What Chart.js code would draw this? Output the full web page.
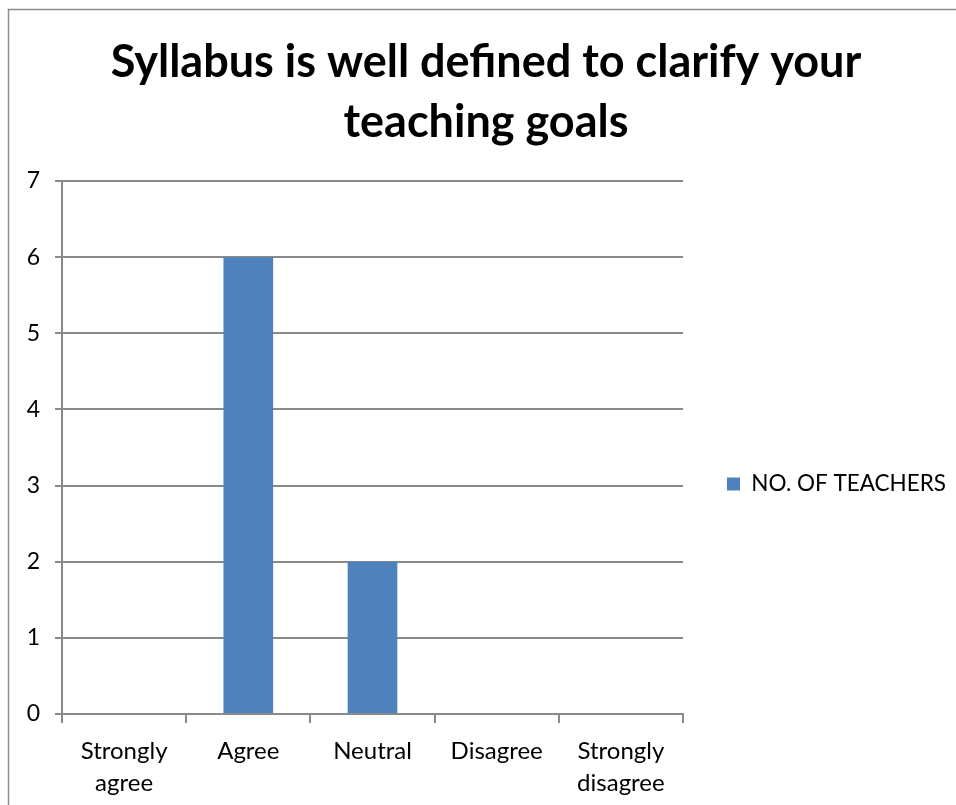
<!DOCTYPE html>
<html>
<head>
<meta charset="utf-8">
<script src="https://cdn.jsdelivr.net/npm/chart.js@4.4.0/dist/chart.umd.min.js"></script>
<style>
html,body{margin:0;padding:0;background:#fff;}
#wrap{position:absolute;left:0;top:0;width:956px;height:805px;}
</style>
</head>
<body>
<div id="wrap"><canvas id="c" width="956" height="805"></canvas></div>
<script>
const titleLines = ["Syllabus is well defined to clarify your", "teaching goals"];
const categories = [["Strongly", "agree"], "Agree", "Neutral", "Disagree", ["Strongly", "disagree"]];
const seriesName = "NO. OF TEACHERS";
const teachers = [0, 6, 2, 0, 0];
const yTicks = [0, 1, 2, 3, 4, 5, 6, 7];

const FONT = "Lato, 'Open Sans', sans-serif";
const GRID = "#8a8a8a";

const framePlugin = {
  id: 'frame',
  afterDraw(chart) {
    const ctx = chart.ctx;
    ctx.save();
    ctx.strokeStyle = "#8c8c8c";
    ctx.lineWidth = 1.5;
    ctx.beginPath();
    ctx.moveTo(8.5, 805);
    ctx.lineTo(8.5, 9.5);
    ctx.lineTo(956, 9.5);
    ctx.stroke();
    ctx.restore();
  }
};

// legend block: fixed width so the plot ends at x=683; square at x=727, centred at y=484
const LEGEND_W = 273;
const legendPlace = {
  id: 'legendPlace',
  beforeLayout(chart) {
    const lg = chart.legend;
    if (lg && !lg._fixedFit) {
      const origFit = lg.fit.bind(lg);
      lg.fit = function () { origFit(); this.width = LEGEND_W; };
      lg._fixedFit = true;
    }
  },
  afterLayout(chart) {
    const lg = chart.legend;
    if (!lg) return;
    const p = lg.options.labels.padding;
    const dx = 727 - (lg.left + p);
    lg.left += dx; lg.right += dx;
    const dy = 484 - (lg.top + lg.bottom) / 2;
    lg.top += dy; lg.bottom += dy;
  }
};

new Chart(document.getElementById('c'), {
  type: 'bar',
  data: {
    labels: categories,
    datasets: [{
      label: seriesName,
      data: teachers,
      backgroundColor: "#4F81BD",
      borderWidth: 0,
      categoryPercentage: 1.0,
      barPercentage: 0.4
    }]
  },
  options: {
    responsive: false,
    animation: false,
    layout: { padding: { left: 16, top: 0, right: 0, bottom: 0 } },
    plugins: {
      title: {
        display: true,
        text: titleLines,
        color: "#000",
        font: { family: FONT, size: 45, weight: 'bold', lineHeight: '60px' },
        padding: { top: 32, bottom: 29 }
      },
      legend: {
        display: true,
        position: 'right',
        align: 'center',
        maxWidth: 400,
        labels: {
          color: "#000",
          font: { family: FONT, size: 22.5 },
          boxWidth: 13,
          boxHeight: 13,
          padding: 20
        }
      },
      tooltip: { enabled: false }
    },
    scales: {
      x: {
        grid: { display: true, drawOnChartArea: false, drawTicks: true, tickLength: 9, color: GRID, lineWidth: 2, offset: true },
        border: { display: true, color: GRID, width: 2 },
        ticks: { color: "#000", font: { family: FONT, size: 24, lineHeight: 1.3 }, padding: 13, maxRotation: 0, autoSkip: false },
        afterFit(scale) { scale.height = 91; }
      },
      y: {
        min: 0, max: 7,
        afterBuildTicks(scale) { scale.ticks = yTicks.map(v => ({ value: v })); },
        grid: { display: true, drawTicks: true, tickLength: 7, color: GRID, lineWidth: 2 },
        border: { display: true, color: GRID, width: 2 },
        ticks: { color: "#000", font: { family: FONT, size: 23 }, padding: 15 },
        afterFit(scale) { scale.width = 46; }
      }
    }
  },
  plugins: [framePlugin, legendPlace]
});
</script>
</body>
</html>
